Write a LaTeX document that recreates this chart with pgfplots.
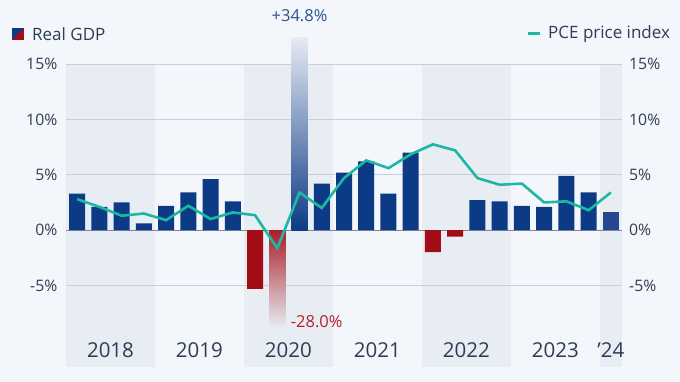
\documentclass[border=0pt]{standalone}
\usepackage{pgfplots}
\pgfplotsset{compat=1.18}
\usepackage{fontspec}
\setmainfont{Open Sans}
\definecolor{bg}{HTML}{F3F6FA}
\definecolor{band}{HTML}{E8EDF4}
\definecolor{gridc}{HTML}{C8CFDB}
\definecolor{zeroc}{HTML}{7D8796}
\definecolor{gdpblue}{HTML}{0D3A85}
\definecolor{lastblue}{HTML}{25468F}
\definecolor{gdpred}{HTML}{A30B17}
\definecolor{pceteal}{HTML}{1DB8A5}
\definecolor{txt}{HTML}{2E3D55}
\definecolor{annblue}{HTML}{2B5291}
\definecolor{annred}{HTML}{B5202B}
\begin{document}
\begin{tikzpicture}[font=\fontsize{15.8bp}{18bp}\selectfont, text=txt]
% background
\fill[bg] (-66bp,-15bp) rectangle (614bp,367bp);
% year bands (2018, 2020, 2022, 2024)
\fill[band] (0bp,0bp) rectangle (88.96bp,303bp);
\fill[band] (177.92bp,0bp) rectangle (266.88bp,303bp);
\fill[band] (355.84bp,0bp) rectangle (444.8bp,303bp);
\fill[band] (533.76bp,0bp) rectangle (556bp,303bp);
\begin{axis}[
  at={(0,0)}, anchor=south west,
  scale only axis, width=556bp, height=330bp,
  xmin=0.5, xmax=25.5, ymin=-12.37, ymax=17.45,
  axis line style={draw=none}, tick style={draw=none},
  xtick=\empty,
  ytick={-5,5,10,15}, yticklabels={},
  extra y ticks={0}, extra y tick labels={},
  extra y tick style={grid style={draw=zeroc, line width=1.2bp}},
  ymajorgrids, grid style={draw=gridc, line width=0.9bp},
  clip=false,
  ybar, bar width=16bp, bar shift=0pt,
]
% Real GDP, positive quarters (2018Q1 ... 2024Q1)
\addplot[draw=none, fill=gdpblue] coordinates {
 (1,3.3) (2,2.1) (3,2.5) (4,0.6)
 (5,2.2) (6,3.4) (7,4.6) (8,2.6)
 (12,4.2)
 (13,5.2) (14,6.2) (15,3.3) (16,7.0)
 (19,2.7) (20,2.6)
 (21,2.2) (22,2.1) (23,4.9) (24,3.4)
};
\addplot[draw=none, fill=lastblue] coordinates {(25,1.6)};
% Real GDP, negative quarters
\addplot[draw=none, fill=gdpred] coordinates {(9,-5.3) (17,-2.0) (18,-0.6)};
% 2020Q3 (+34.8%) drawn truncated with a fade
\addplot[draw=none, top color=gdpblue!6!bg, middle color=gdpblue!80!bg, bottom color=gdpblue] coordinates {(11,17.4)};
% 2020Q2 (-28.0%) drawn truncated with a fade
\addplot[draw=none, top color=gdpred!92!white, middle color=gdpred!45!band, bottom color=band] coordinates {(10,-8.85)};
% PCE price index
\addplot[sharp plot, draw=pceteal, line width=2.6bp, mark=none] coordinates {
 (1,2.8) (2,2.1) (3,1.3) (4,1.5)
 (5,0.9) (6,2.2) (7,1.0) (8,1.6)
 (9,1.35) (10,-1.65) (11,3.4) (12,2.0)
 (13,4.7) (14,6.3) (15,5.6) (16,6.85)
 (17,7.75) (18,7.2) (19,4.7) (20,4.1)
 (21,4.2) (22,2.5) (23,2.6) (24,1.8)
 (25,3.4)
};
% tick labels
\pgfplotsinvokeforeach{-5,0,5,10,15}{
  \node[anchor=east, inner sep=0pt] at ([xshift=-8.5bp]axis cs:0.5,#1) {#1\%};
  \node[anchor=west, inner sep=0pt] at ([xshift=7bp]axis cs:25.5,#1) {#1\%};
}
% year labels
\begin{scope}[font=\fontsize{20.5bp}{24bp}\selectfont]
\node at (axis cs:2.5,-10.84) {2018};
\node at (axis cs:6.5,-10.84) {2019};
\node at (axis cs:10.5,-10.84) {2020};
\node at (axis cs:14.5,-10.84) {2021};
\node at (axis cs:18.5,-10.84) {2022};
\node at (axis cs:22.5,-10.84) {2023};
\node at (axis cs:25,-10.84) {’24};
\end{scope}
\end{axis}
% annotations
\node[font=\fontsize{16.5bp}{19bp}\selectfont, text=annblue] at (233.5bp,351.5bp) {+34.8\%};
\node[font=\fontsize{16.5bp}{19bp}\selectfont, text=annred, anchor=west, inner sep=0pt] at (224.7bp,45.3bp) {-28.0\%};
% legend
\fill[gdpblue] (-54bp,339bp) rectangle (-42bp,327bp);
\fill[gdpred] (-42bp,339bp) -- (-42bp,327bp) -- (-54bp,327bp) -- cycle;
\node[anchor=west, inner sep=0pt, font=\fontsize{17bp}{20bp}\selectfont] at (-34bp,333bp) {Real GDP};
\fill[pceteal] (461.7bp,331.5bp) rectangle (474bp,334.5bp);
\node[anchor=west, inner sep=0pt, font=\fontsize{17bp}{20bp}\selectfont] at (482bp,333bp) {PCE price index};
\pgfresetboundingbox
\path[use as bounding box] (-66bp,-15bp) rectangle (614bp,367bp);
\end{tikzpicture}
\end{document}
